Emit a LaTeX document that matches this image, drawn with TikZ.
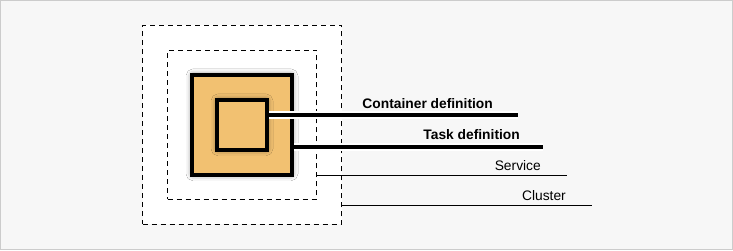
\documentclass[tikz,border=0pt]{standalone}
\usepackage{fontspec}
\setmainfont{Liberation Sans}
\usetikzlibrary{positioning, shadows.blur}
\definecolor{boxfill}{HTML}{F2C171}
\definecolor{pagebg}{HTML}{F7F7F7}
\definecolor{pageedge}{HTML}{CCCCCC}
\tikzset{
    dashbox/.style={draw, line width=1pt, dash pattern=on 5pt off 4pt,
        fill=white, inner sep=0pt, minimum size=#1},
    defbox/.style={draw, line width=4pt, fill=boxfill, inner sep=0pt,
        minimum size=#1,
        blur shadow={shadow xshift=0pt, shadow yshift=0pt,
            shadow blur radius=6pt, shadow blur extra rounding=1pt,
            shadow opacity=50}},
    thickline/.style={line width=4pt, preaction={draw=white, line width=8pt}},
    thinline/.style={line width=1pt},
    deftext/.style={inner sep=0pt, font=\fontsize{13.8}{16}\selectfont\bfseries},
    restext/.style={inner sep=0pt, font=\fontsize{13.8}{16}\selectfont}
}

\begin{document}
\begin{tikzpicture}[x=1pt, y=-1pt]
        % Page: 733 x 250, y runs downwards
        \useasboundingbox (0,0) rectangle (733,250);
        \draw[pageedge, fill=pagebg] (0.5,0.5) rectangle (732.5,249.5);

        \coordinate (mid)      at (242,124.8);     % common centre
        \coordinate (conend)   at (518,115);       % Container line end
        \coordinate (taskend)  at (543,146.7);     % Task line end
        \coordinate (servend)  at (567,175.7);     % Service line end
        \coordinate (clusend)  at (592,205.7);     % Cluster line end

        \node[dashbox=199] (cluster)   at (mid) {};
        \node[dashbox=149] (service)   at (mid) {};
        \node[defbox=100]  (task)      at (mid) {};
        \node[defbox=50]   (container) at (mid) {};

        \draw[thinline]  (cluster.east |- clusend) -- (clusend);
        \draw[thinline]  (service.east |- servend) -- (servend);
        \draw[thickline] (task.east |- taskend) -- (taskend);
        \draw[thickline] (container.east |- conend) -- (conend);

        \node[deftext, above left=6.5pt and 25pt of conend]  (contxt)  {Container definition};
        \node[deftext, above left=7pt and 23pt of taskend]   (tasktxt) {Task definition};
        \node[restext, above left=4.5pt and 26pt of servend] (servtxt) {Service};
        \node[restext, above left=4.5pt and 26pt of clusend] (clustxt) {Cluster};
    \end{tikzpicture}
\end{document}
